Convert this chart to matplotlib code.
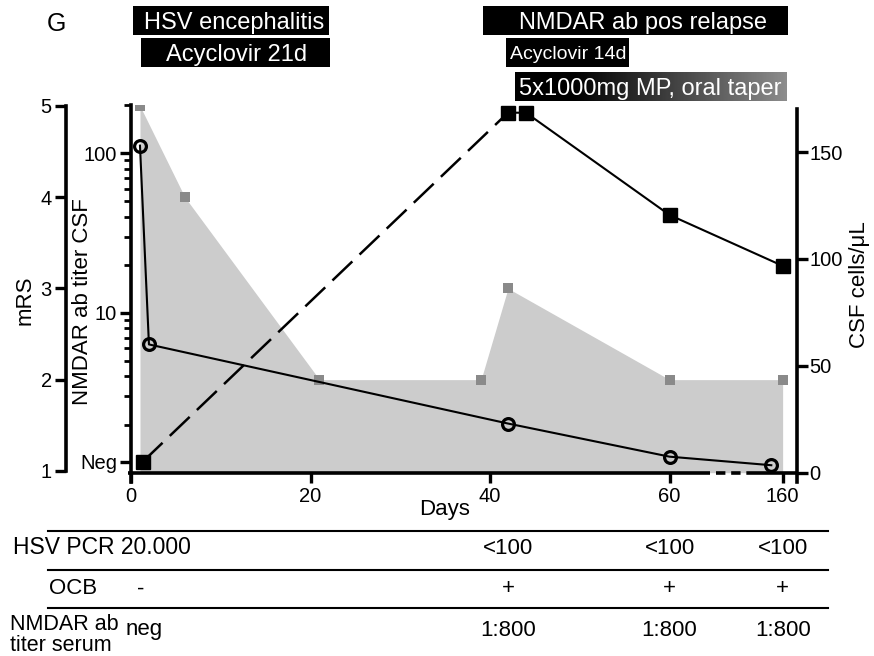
import numpy as np
import matplotlib
matplotlib.use("Agg")
import matplotlib.pyplot as plt
import matplotlib.patches as mp
from matplotlib.ticker import NullFormatter
from matplotlib.transforms import blended_transform_factory

plt.rcParams.update({"font.family": ["Liberation Sans", "DejaVu Sans"], "font.size": 14.5})
W, H = 874, 656

# values
mrs_days = [1, 6, 21, 39, 42, 60, 160]
mrs = [5, 4, 2, 2, 3, 2, 2]
cell_days = [1, 2, 42, 60, 142]
cells = [153, 60, 23, 7.5, 3.5]
NEG = 1.17
titer_days = [1.3, 42, 44, 60, 160]
titer = [NEG, 179, 179, 41, 19.7]
xticks = [0, 20, 40, 60, 160]

tab_days = [42, 60, 160]
hsv_pcr = ["<100", "<100", "<100"]
ocb = ["+", "+", "+"]
serum = ["1:800", "1:800", "1:800"]

# broken x axis: days past 66 are squeezed
BRK, R = 66, 0.0702
def fwd(d):
    d = np.asarray(d, float)
    return np.where(d <= BRK, d, BRK + (d - BRK) * R)
def inv(e):
    e = np.asarray(e, float)
    return np.where(e <= BRK, e, BRK + (e - BRK) / R)

def fx(x): return x / W
def fy(y): return 1 - y / H

fig = plt.figure(figsize=(W / 100, H / 100), dpi=100)
host = fig.add_axes([fx(131), fy(472.7), 666 / W, 367.7 / H])
host.set_xscale("function", functions=(fwd, inv))
host.set_xlim(0, 182.8)
ax_t = host.twinx()
ax_c = host.twinx()

LW = 2.6
for a in (host, ax_t, ax_c):
    for s in a.spines.values():
        s.set_visible(False)
        s.set_linewidth(LW)
    a.tick_params(direction="out", length=8, width=2.4, labelsize=14.5)
    a.tick_params(which="minor", direction="out", length=5, width=2)

# mRS (outer left axis) with grey fill
host.set_ylim(0.98, 5.01)
host.spines["left"].set_visible(True)
host.spines["left"].set_position(("outward", 47))
host.spines["left"].set_bounds(1, 5)
host.set_yticks([1, 2, 3, 4, 5])
host.tick_params(axis="y", pad=2)
host.fill_between(mrs_days, mrs, host.get_ylim()[0], color="#cccccc", lw=0)
host.plot(mrs_days, mrs, "s", color="#8a8a8a", ms=7, mew=0)

# NMDAR titer CSF (inner left log axis)
ax_t.set_yscale("log")
ax_t.set_ylim(1, 200)
ax_t.yaxis.tick_left()
ax_t.spines["left"].set_visible(True)
ax_t.spines["left"].set_bounds(0.875, 200)
ax_t.set_yticks([NEG, 10, 100], labels=["Neg", "10", "100"])
ax_t.set_yticks([2, 3, 4, 5, 6, 7, 8, 9, 20, 30, 40, 50, 60, 70, 80, 90, 200], minor=True)
ax_t.yaxis.set_minor_formatter(NullFormatter())
ax_t.tick_params(axis="y", pad=2)
ax_t.plot(titer_days[:2], titer[:2], color="k", lw=1.8, ls=(0, (11, 4)))
ax_t.plot(titer_days[1:], titer[1:], color="k", lw=1.5)
ax_t.plot(titer_days, titer, "s", color="k", ms=10)

# CSF cells (right axis)
ax_c.set_ylim(0, 172)
ax_c.spines["right"].set_visible(True)
ax_c.spines["right"].set_bounds(-4.3, 170)
ax_c.set_yticks([0, 50, 100, 150])
ax_c.tick_params(axis="y", pad=1)
ax_c.plot(cell_days, cells, color="k", lw=1.5, marker="o", mfc="none", mec="k", ms=8.5, mew=2.3)

# x axis with break
host.set_xticks(xticks, labels=[str(t) for t in xticks])
host.tick_params(axis="x", length=7, pad=3)
xt = host.get_xaxis_transform()
host.plot([-0.3, 64.5], [0, 0], color="k", lw=LW, transform=xt, clip_on=False, solid_capstyle="butt")
host.plot([65.2, 113], [0, 0], color="k", lw=LW, ls=(0, (2.6, 1.6)), transform=xt, clip_on=False,
          dash_capstyle="butt")
host.plot([113, 182.8], [0, 0], color="k", lw=LW, transform=xt, clip_on=False, solid_capstyle="butt")

fig.text(fx(445), fy(510), "Days", fontsize=16, ha="center", va="center")
fig.text(fx(25), fy(300), "mRS", fontsize=16, rotation=90, ha="center", va="center")
fig.text(fx(83), fy(302), "NMDAR ab titer CSF", fontsize=16, rotation=90, ha="center", va="center")
fig.text(fx(860), fy(285), "CSF cells/\u03bcL", fontsize=16, rotation=90, ha="center", va="center")
fig.text(fx(56), fy(24), "G", fontsize=18, ha="center", va="center")

# treatment / phase boxes
def box(x0, y0, x1, y1, txt, tx, fs=16.5):
    fig.patches.append(mp.Rectangle((fx(x0), fy(y1)), fx(x1) - fx(x0), fy(y0) - fy(y1),
                                    transform=fig.transFigure, fc="black", ec="none"))
    fig.text(fx(tx), fy((y0 + y1) / 2), txt, color="white", fontsize=fs, ha="center", va="center_baseline")

box(133, 6, 329, 35, "HSV encephalitis", 234, fs=17)
box(141, 38, 330, 67, "Acyclovir 21d", 237, fs=17)
box(483, 6, 788, 35, "NMDAR ab pos relapse", 643, fs=17)
box(506, 38, 629, 67, "Acyclovir 14d", 568, fs=14)
gax = fig.add_axes([fx(515), fy(101), (787 - 515) / W, 29 / H])
grad = np.clip(np.linspace(-0.15, 0.55, 256), 0, 1)[None, :]
gax.imshow(grad, cmap="gray", vmin=0, vmax=1, aspect="auto", extent=(0, 1, 0, 1))
gax.axis("off")
fig.text(fx(650), fy(86.5), "5x1000mg MP, oral taper", color="white", fontsize=17,
         ha="center", va="center_baseline")

# table under the plot
for y in (530.7, 570, 608.3):
    fig.add_artist(plt.Line2D([fx(48), fx(828)], [fy(y), fy(y)], color="k", lw=1.5))
tt = blended_transform_factory(host.transData, fig.transFigure)
fig.text(fx(13), fy(548), "HSV PCR 20.000", fontsize=16.5, ha="left", va="center")
fig.text(fx(73), fy(589), "OCB", fontsize=16, ha="center", va="center")
fig.text(fx(141), fy(589), "-", fontsize=16, ha="center", va="center")
fig.text(fx(10), fy(635), "NMDAR ab\ntiter serum", fontsize=15.5, ha="left", va="center", linespacing=0.95)
fig.text(fx(126), fy(630), "neg", fontsize=16, ha="left", va="center")
for d, a, b, c in zip(tab_days, hsv_pcr, ocb, serum):
    fig.text(d, fy(548), a, fontsize=16, ha="center", va="center", transform=tt)
    fig.text(d, fy(589), b, fontsize=16, ha="center", va="center", transform=tt)
    fig.text(d, fy(630), c, fontsize=16, ha="center", va="center", transform=tt)

fig.savefig("out.png", dpi=100)
